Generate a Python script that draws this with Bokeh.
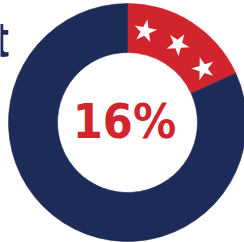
import numpy as np
from bokeh.plotting import figure
from bokeh.models import Range1d, ColumnDataSource
from bokeh.embed import file_html
from bokeh.resources import INLINE
from bokeh.core.properties import value

# ---- data ----
segments = ["Share", "Rest"]
shares = [18.2, 81.8]
colors = ["#d2242d", "#1d2b58"]
center_label = "16%"
title_tail = "t"
n_stars = 3

W, H = 244, 242
p = figure(width=W, height=H, x_range=Range1d(0, W), y_range=Range1d(0, H),
           output_backend="svg", toolbar_location=None, min_border=0,
           x_axis_type=None, y_axis_type=None)
p.grid.visible = False
p.outline_line_color = None
p.background_fill_color = "white"
p.border_fill_color = "white"

cx, cy = 127, 120
R_out, R_in = 119, 70

frac = np.array(shares) / sum(shares)
cum = np.concatenate([[0.0], np.cumsum(frac)])
start = np.pi / 2 - 2 * np.pi * cum[:-1]
end = np.pi / 2 - 2 * np.pi * cum[1:]
src = ColumnDataSource(dict(x=[cx] * len(shares), y=[cy] * len(shares),
                            start=start, end=end, color=colors, name=segments))
p.annular_wedge(x="x", y="y", inner_radius=R_in, outer_radius=R_out,
                start_angle="start", end_angle="end", direction="clock",
                fill_color="color", line_color="color", line_width=0.6, source=src)

# stars inside first segment
rm = 93
th = 2 * np.pi * frac[0] * (np.arange(n_stars) + 0.5) / n_stars
sx = cx + rm * np.sin(th)
sy = cy + rm * np.cos(th)
p.scatter(sx, sy, marker="star", size=24, angle=-th, fill_color="white",
          line_color=None)

p.text(x=[124], y=[H - 120.5], text=[center_label], text_align="center",
       text_baseline="middle", text_color=colors[0], text_font_size="48px",
       text_font=value("Liberation Sans Narrow, DejaVu Sans Condensed, Liberation Sans"),
       text_font_style="bold")

p.text(x=[8.7], y=[H - 39.5], text=[title_tail], text_align="right",
       text_baseline="middle", text_color=colors[1], text_font_size="50px",
       text_font=value("Liberation Sans"), text_font_style="bold")

open("out.html", "w").write(file_html(p, INLINE))
